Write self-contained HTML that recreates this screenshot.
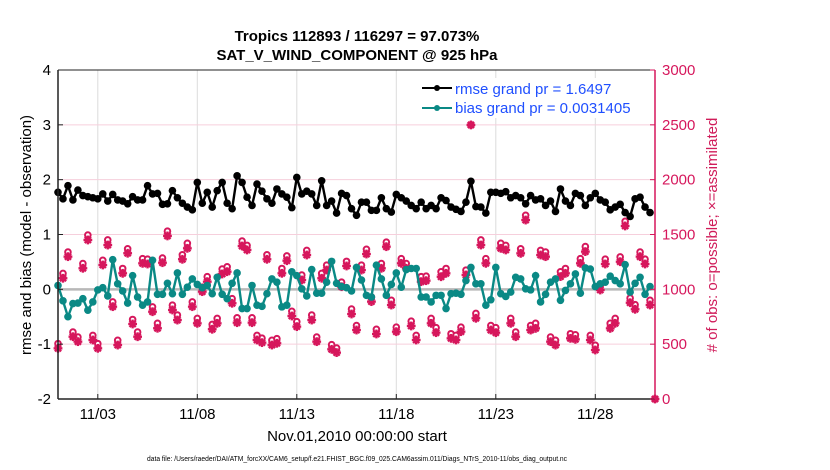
<!DOCTYPE html>
<html><head><meta charset="utf-8"><style>
body{margin:0;background:#fff;font-family:"Liberation Sans",Arial,sans-serif;}
svg{display:block}
</style></head><body>
<svg id="chart" width="830" height="470" viewBox="0 0 830 470" xmlns="http://www.w3.org/2000/svg">
<text x="357" y="41" font-size="15" font-weight="bold" text-anchor="middle">Tropics 112893 / 116297 = 97.073%</text>
<text x="357" y="60" font-size="15" font-weight="bold" text-anchor="middle">SAT_V_WIND_COMPONENT @ 925 hPa</text>
<g id="grid"></g>
<g id="plot"></g>
<g id="axes"></g>
<text transform="translate(31,235) rotate(-90)" font-size="15" text-anchor="middle">rmse and bias (model - observation)</text>
<text transform="translate(717,235) rotate(-90)" font-size="15" fill="#d01c5a" text-anchor="middle"># of obs: o=possible; ×=assimilated</text>
<text x="357" y="441" font-size="15" text-anchor="middle">Nov.01,2010 00:00:00 start</text>
<text x="357" y="461" font-size="7" text-anchor="middle" textLength="420" lengthAdjust="spacingAndGlyphs">data file: /Users/raeder/DAI/ATM_forcXX/CAM6_setup/f.e21.FHIST_BGC.f09_025.CAM6assim.011/Diags_NTrS_2010-11/obs_diag_output.nc</text>
<g>
<rect x="418" y="78" width="234" height="40" fill="#fff"/>
<line x1="422" y1="88" x2="452" y2="88" stroke="#000" stroke-width="2"/>
<circle cx="437" cy="88" r="3" fill="#000"/>
<text x="455" y="94" font-size="15" fill="#1f4fff">rmse grand pr = 1.6497</text>
<line x1="422" y1="108" x2="452" y2="108" stroke="#0a8985" stroke-width="2"/>
<circle cx="437" cy="108" r="3" fill="#0a8985"/>
<text x="455" y="113" font-size="15" fill="#1f4fff">bias grand pr = 0.0031405</text>
</g>
</svg>
<script>
const rmse=[1.77,1.65,1.89,1.63,1.81,1.71,1.69,1.67,1.65,1.74,1.61,1.73,1.63,1.61,1.56,1.69,1.63,1.63,1.89,1.74,1.75,1.55,1.56,1.80,1.67,1.57,1.50,1.45,1.95,1.57,1.77,1.50,1.80,1.95,1.57,1.47,2.07,1.95,1.68,1.53,1.92,
1.79,1.65,1.57,1.83,1.74,1.68,1.49,2.04,1.74,1.79,1.74,1.53,1.98,1.53,1.61,1.39,1.75,1.71,1.47,1.35,1.59,1.59,1.44,1.44,1.67,1.47,1.41,1.73,1.67,1.61,1.53,1.47,1.59,1.47,1.53,1.47,1.67,1.62,1.50,
1.46,1.42,1.59,1.97,1.51,1.50,1.39,1.77,1.77,1.75,1.78,1.67,1.71,1.67,1.56,1.71,1.63,1.65,1.53,1.61,1.42,1.83,1.61,1.53,1.75,1.71,1.53,1.67,1.75,1.63,1.59,1.45,1.50,1.55,1.40,1.33,1.65,1.68,1.50,1.40];
const bias=[0.07,-0.21,-0.50,-0.26,-0.25,-0.17,-0.38,-0.23,-0.01,0.03,-0.12,0.54,0.10,-0.03,-0.25,0.25,-0.14,-0.29,-0.23,0.53,-0.09,-0.09,0.11,-0.08,0.30,-0.09,0.04,0.19,0.09,0.03,0.07,-0.08,0.22,-0.09,-0.17,0.11,0.30,-0.35,-0.35,0.07,-0.29,
-0.31,-0.08,0.19,0.13,-0.32,-0.29,0.32,0.25,0.01,-0.12,0.36,-0.07,-0.07,0.13,0.51,0.11,0.05,0.03,-0.03,0.40,0.17,-0.11,-0.14,0.44,0.19,-0.11,0.09,0.30,0.04,0.36,0.38,0.38,-0.14,-0.14,-0.23,-0.11,-0.11,-0.35,-0.08,
-0.07,-0.09,0.16,0.40,0.10,0.10,-0.29,-0.19,0.40,-0.08,-0.13,-0.05,0.22,0.19,0.01,-0.01,0.25,-0.23,-0.09,0.13,0.19,-0.20,-0.02,0.10,0.28,-0.07,0.39,0.37,0.05,0.10,0.13,0.24,0.16,0.10,0.45,-0.05,0.11,0.22,-0.09,0.05];
const assimilated=[462,1101,1298,568,523,1192,1450,538,462,1222,1404,842,492,1146,1329,684,568,1237,1231,796,645,1243,1487,812,720,1274,1374,842,690,979,1070,636,690,1140,1161,873,696,1395,1359,696,538,
514,1274,492,508,1146,1261,757,660,1085,1313,720,523,1101,1176,453,423,1024,1213,775,629,1176,1322,888,593,1192,1389,857,614,1237,1192,666,538,1070,1079,690,605,1115,1146,553,
538,614,1131,2499,736,1404,1237,629,605,1374,1359,690,568,1328,1632,629,644,1313,1298,523,492,1116,1146,553,544,1237,1344,538,447,994,1231,644,690,1252,1578,878,818,1298,1231,857,0];
const possible=[505,1145,1340,610,565,1235,1495,580,505,1265,1450,885,535,1190,1370,725,610,1280,1275,840,690,1285,1530,855,765,1315,1420,885,735,1020,1115,680,735,1185,1205,915,740,1440,1400,740,580,
555,1315,535,550,1190,1305,800,705,1130,1355,765,565,1145,1220,495,465,1065,1255,820,670,1220,1365,930,635,1235,1430,900,655,1280,1235,710,580,1115,1120,735,650,1160,1190,595,
580,655,1175,2499,780,1450,1280,670,650,1420,1400,735,610,1370,1675,670,690,1355,1340,565,535,1160,1190,595,585,1280,1390,580,490,1035,1275,690,735,1295,1620,920,860,1340,1275,900,0];
const xTickLabels=["11/03","11/08","11/13","11/18","11/23","11/28"];
const xTickDays=[2,7,12,17,22,27];
const yLeftTicks=[-2,-1,0,1,2,3,4];
const yRightTicks=[0,500,1000,1500,2000,2500,3000];

const NS="http://www.w3.org/2000/svg";
const X0=58,X1=655,Y0=399,Y1=70;
const xs=d=>X0+(d/30)*(X1-X0);
const yl=v=>Y0-(v+2)/6*(Y0-Y1);
const yr=v=>Y0-v/3000*(Y0-Y1);
const tDay=i=>i*0.25;
function mk(tag,attrs,parent){const e=document.createElementNS(NS,tag);for(const k in attrs)e.setAttribute(k,attrs[k]);parent.appendChild(e);return e;}
const grid=document.getElementById('grid'),plot=document.getElementById('plot'),axes=document.getElementById('axes');

mk('rect',{x:X0,y:Y1,width:X1-X0,height:Y0-Y1,fill:'#fff'},grid);
xTickDays.forEach((d,i)=>{
 const l=mk('line',{x1:xs(d),x2:xs(d),y1:Y1,y2:Y0,stroke:'#dcdcdc','stroke-width':1},grid);
 
 
});
yRightTicks.forEach(v=>{
 const l=mk('line',{x1:X0,x2:X1,y1:yr(v),y2:yr(v),stroke:'#f6cfdc','stroke-width':1},grid);
 
 
});
const zl=mk('line',{x1:X0,x2:X1,y1:yl(0),y2:yl(0),stroke:'#b8b8b8','stroke-width':2.5},grid);



function star(cx,cy,parent){
 const g=mk('g',{},parent);
 const s=4.4;
 [[0,1],[1,0],[0.7,0.7],[0.7,-0.7]].forEach(([a,b])=>mk('line',{x1:cx-a*s,y1:cy-b*s,x2:cx+a*s,y2:cy+b*s,stroke:'#d6175c','stroke-width':2.4},g));
 mk('circle',{cx:cx,cy:cy,r:3,fill:'#d6175c'},g);
 return g;
}
possible.forEach((v,i)=>{
 const c=mk('circle',{cx:xs(tDay(i)),cy:yr(v),r:2.8,fill:'#fff',stroke:'#d6175c','stroke-width':2},plot);
 
 
});
assimilated.forEach((v,i)=>{
 const g=star(xs(tDay(i)),yr(v),plot);
 
 
});
function series(arr,color,name){
 const p=mk('polyline',{points:arr.map((v,i)=>xs(tDay(i))+','+yl(v)).join(' '),fill:'none',stroke:color,'stroke-width':2.4},plot);
 
 
 arr.forEach((v,i)=>{
  const c=mk('circle',{cx:xs(tDay(i)),cy:yl(v),r:3.8,fill:color},plot);
  
  
 });
}
series(bias,'#0a8985','bias');
series(rmse,'#000','rmse');

const ax=[['line',{x1:X0,x2:X0,y1:Y1,y2:Y0,stroke:'#222','stroke-width':1.5},'left-axis'],
 ['line',{x1:X0,x2:X1,y1:Y0,y2:Y0,stroke:'#222','stroke-width':1.5},'x-axis'],
 ['line',{x1:X0,x2:X1,y1:Y1,y2:Y1,stroke:'#222','stroke-width':1},'top-border'],
 ['line',{x1:X1,x2:X1,y1:Y1,y2:Y0,stroke:'#d6175c','stroke-width':1.5},'right-axis']];
ax.forEach(([t,a,n])=>{const e=mk(t,a,axes);
 
 });
xTickDays.forEach((d,i)=>{
 mk('line',{x1:xs(d),x2:xs(d),y1:Y0,y2:Y0-5,stroke:'#222','stroke-width':1},axes);
 const t=mk('text',{x:xs(d),y:Y0+20,'font-size':15,'text-anchor':'middle'},axes);
 t.textContent=xTickLabels[i];
 
 
});
yLeftTicks.forEach(v=>{
 mk('line',{x1:X0,x2:X0+5,y1:yl(v),y2:yl(v),stroke:'#222','stroke-width':1},axes);
 const t=mk('text',{x:X0-7,y:yl(v)+5,'font-size':15,'text-anchor':'end'},axes);
 t.textContent=String(v);
 
 
});
yRightTicks.forEach(v=>{
 mk('line',{x1:X1,x2:X1-5,y1:yr(v),y2:yr(v),stroke:'#d6175c','stroke-width':1},axes);
 const t=mk('text',{x:X1+7,y:yr(v)+5,'font-size':15,fill:'#d6175c'},axes);
 t.textContent=String(v);
 
 
});
</script>
</body></html>
